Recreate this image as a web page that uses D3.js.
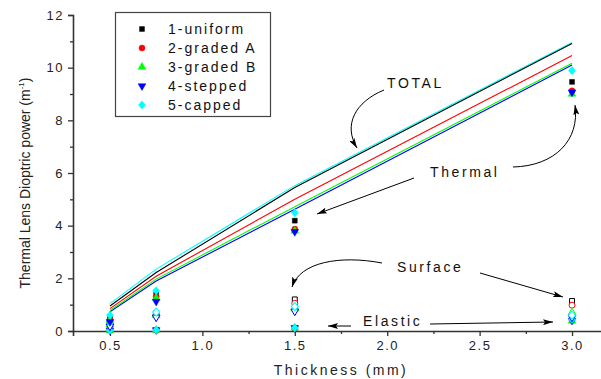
<!DOCTYPE html>
<html>
<head>
<meta charset="utf-8">
<script src="https://cdn.jsdelivr.net/npm/d3@7"></script>
<style>
  body { margin: 0; background: #fff; }
  svg { display: block; font-family: "Liberation Sans", Arial, sans-serif; }
</style>
</head>
<body>
<svg id="chart" width="601" height="379"></svg>
<script>
// thickness values (mm)
const thickness = [0.5, 0.75, 1.5, 3.0];
const seriesNames = ["1-uniform", "2-graded A", "3-graded B", "4-stepped", "5-capped"];
const seriesColors = ["#000000", "#ff0000", "#00ff00", "#0000ff", "#00ffff"];

// total dioptric power (lines), one row per series
const totalPower = [
  [0.95, 2.22, 5.45, 10.92],
  [0.85, 2.08, 5.00, 10.46],
  [0.78, 1.97, 4.72, 10.17],
  [0.73, 1.90, 4.62, 10.10],
  [1.04, 2.35, 5.52, 10.96]
];
// thermal part (filled symbols)
const thermalPower = [
  [0.50, 1.39, 4.19, 9.46],
  [0.42, 1.30, 3.87, 9.12],
  [0.40, 1.25, 3.80, 9.00],
  [0.35, 1.12, 3.77, 9.07],
  [0.60, 1.53, 4.49, 9.89]
];
// surface part (open symbols)
const surfacePower = [
  [0.30, 0.68, 1.20, 1.14],
  [0.26, 0.64, 1.05, 0.98],
  [0.24, 0.60, 0.85, 0.70],
  [0.18, 0.52, 0.75, 0.52],
  [0.35, 0.72, 0.93, 0.60]
];
// elastic part (filled symbols)
const elasticPower = [
  [0.03, 0.04, 0.12, 0.42],
  [0.03, 0.04, 0.12, 0.40],
  [0.03, 0.04, 0.12, 0.38],
  [0.03, 0.04, 0.12, 0.40],
  [0.03, 0.04, 0.12, 0.44]
];

const xTicks = [0.5, 1.0, 1.5, 2.0, 2.5, 3.0];
const yTicks = [0, 2, 4, 6, 8, 10, 12];

const svg = d3.select("#chart");
const x = d3.scaleLinear().domain([0.3, 3.2]).range([73, 609]);
const y = d3.scaleLinear().domain([0, 12]).range([331, 15]);

// axes
const xAxis = svg.append("g").attr("transform", "translate(0,331)")
  .call(d3.axisBottom(x).tickValues(xTicks).tickFormat(d3.format(".1f")).tickSize(5).tickPadding(5));
const xMinor = svg.append("g").attr("transform", "translate(0,331)")
  .call(d3.axisBottom(x).tickValues(d3.range(0.75, 3.1, 0.5)).tickFormat("").tickSize(3));
const yAxis = svg.append("g").attr("transform", "translate(73,0)")
  .call(d3.axisLeft(y).tickValues(yTicks).tickSize(5).tickPadding(4));
const yMinor = svg.append("g").attr("transform", "translate(73,0)")
  .call(d3.axisLeft(y).tickValues(d3.range(1, 12, 2)).tickFormat("").tickSize(3));

[xAxis, xMinor, yAxis, yMinor].forEach(g => {
  g.select(".domain").attr("stroke", "#333").attr("stroke-width", 1.6);
  g.selectAll(".tick line").attr("stroke", "#333").attr("stroke-width", 1.3);
  g.selectAll("text").attr("fill", "#222").style("font-size", "13px").style("letter-spacing", "1.5px")
    .style("font-family", "Liberation Sans, Arial, sans-serif");
});
xMinor.select(".domain").remove();
yMinor.select(".domain").remove();

// axis titles
svg.append("text").attr("x", 341).attr("y", 375)
  .attr("text-anchor", "middle").style("font-size", "14px").style("letter-spacing", "2.5px")
  .attr("fill", "#222").text("Thickness (mm)");
const yt = svg.append("text").attr("transform", "translate(30,183) rotate(-90)")
  .attr("text-anchor", "middle").style("font-size", "14px").attr("fill", "#222");
yt.append("tspan").text("Thermal Lens Dioptric power (m");
yt.append("tspan").attr("dy", -6).style("font-size", "8px").text("-1");
yt.append("tspan").attr("dy", 6).text(")");

// total lines (drawn last series first so black sits over cyan)
const line = d3.line().x((d, i) => x(thickness[i])).y(d => y(d));
d3.range(seriesNames.length).reverse().forEach(s => {
  svg.append("path").datum(totalPower[s]).attr("d", line)
    .attr("fill", "none").attr("stroke", seriesColors[s]).attr("stroke-width", 1.1);
});

// symbols
const symbolTypes = [d3.symbolSquare, d3.symbolCircle, d3.symbolTriangle, d3.symbolTriangle, d3.symbolDiamond];
const symbolSizes = [24, 28, 26, 26, 30];
const rotation = [0, 0, 0, 180, 0];
function drawPoints(values, open) {
  values.forEach((vals, s) => {
    svg.append("g").selectAll("path").data(vals).enter().append("path")
      .attr("d", d3.symbol().type(symbolTypes[s]).size(symbolSizes[s]))
      .attr("transform", (d, i) => `translate(${x(thickness[i])},${y(d)}) rotate(${rotation[s]}) scale(${s === 4 ? "1.2,0.8" : "1"})`)
      .attr("fill", open ? "#fff" : seriesColors[s])
      .attr("stroke", seriesColors[s]).attr("stroke-width", open ? 1 : 0.5);
  });
}
drawPoints(elasticPower, false);
drawPoints(surfacePower, true);
drawPoints(thermalPower, false);

// legend
svg.append("rect").attr("x", 115.5).attr("y", 12.5).attr("width", 155).attr("height", 104)
  .attr("fill", "#fff").attr("stroke", "#444").attr("stroke-width", 1.2);
seriesNames.forEach((name, s) => {
  const ly = 29 + s * 19;
  svg.append("path")
    .attr("d", d3.symbol().type(symbolTypes[s]).size(symbolSizes[s]))
    .attr("transform", `translate(142,${ly}) rotate(${rotation[s]}) scale(${s === 4 ? "1.2,0.8" : "1"})`)
    .attr("fill", seriesColors[s]).attr("stroke", seriesColors[s]).attr("stroke-width", 0.5);
  svg.append("text").attr("x", 168).attr("y", ly + 5)
    .style("font-size", "14px").style("letter-spacing", "2px").attr("fill", "#111").text(name);
});

// annotations
svg.append("defs").append("marker").attr("id", "ah")
  .attr("viewBox", "0 0 10 6").attr("refX", 10).attr("refY", 3)
  .attr("markerWidth", 10).attr("markerHeight", 6).attr("markerUnits", "userSpaceOnUse")
  .attr("orient", "auto")
  .append("path").attr("d", "M0,0 L10,3 L0,6 L2,3 Z").attr("fill", "#000");

function label(tx, ty, txt) {
  svg.append("text").attr("x", tx).attr("y", ty).style("font-size", "14px")
    .style("letter-spacing", "2.6px").attr("fill", "#111").text(txt);
}
function arrow(d) {
  svg.append("path").attr("d", d).attr("fill", "none").attr("stroke", "#000")
    .attr("stroke-width", 1).attr("marker-end", "url(#ah)");
}
label(387, 88, "TOTAL");
arrow("M384,90 C355,102 343,125 357,148");
label(430, 177, "Thermal");
arrow("M414,178 L317,214");
arrow("M513,167 C555,166 580,140 575,105");
label(397, 272, "Surface");
arrow("M382,263 C340,255 300,262 292,287");
arrow("M480,273 L563,297");
label(363, 326, "Elastic");
arrow("M430,324 L553,322");
arrow("M351,326 L328,326");
</script>
</body>
</html>
